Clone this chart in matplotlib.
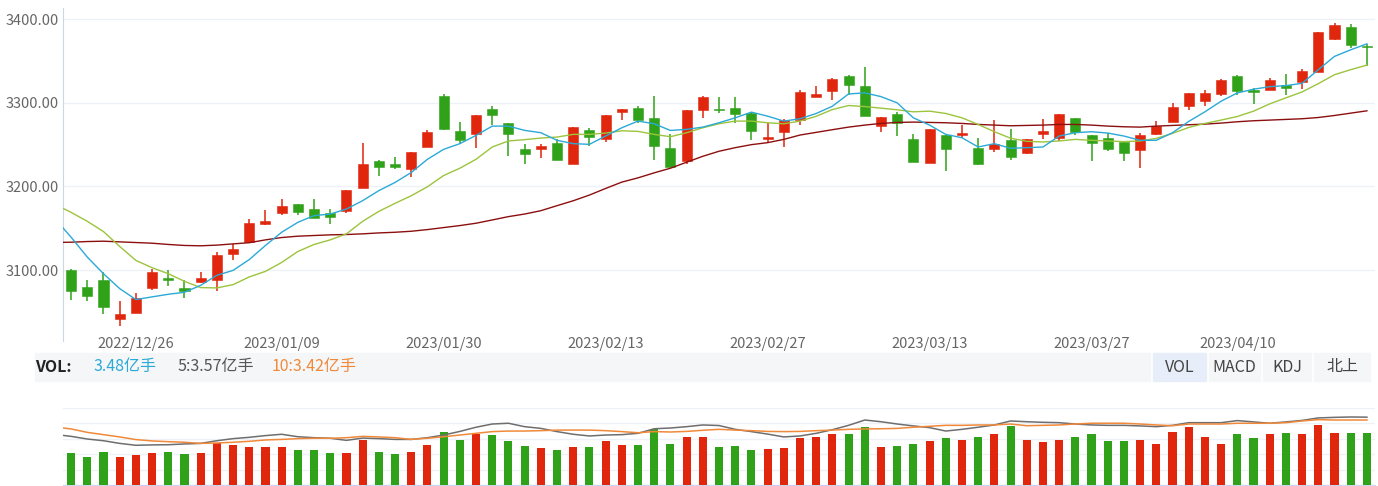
import numpy as np
import matplotlib
matplotlib.use("Agg")
import matplotlib.pyplot as plt
from matplotlib.patches import Rectangle

plt.rcParams['font.family'] = ['Noto Sans CJK SC', 'DejaVu Sans']

# trading days shown (2022/12/20 .. 2023/04/20)
dates = [
    '2022/12/20', '2022/12/21', '2022/12/22', '2022/12/23', '2022/12/26', '2022/12/27', '2022/12/28',
    '2022/12/29', '2022/12/30',
    '2023/01/03', '2023/01/04', '2023/01/05', '2023/01/06', '2023/01/09', '2023/01/10', '2023/01/11',
    '2023/01/12', '2023/01/13', '2023/01/16', '2023/01/17', '2023/01/18', '2023/01/19', '2023/01/20',
    '2023/01/30', '2023/01/31',
    '2023/02/01', '2023/02/02', '2023/02/03', '2023/02/06', '2023/02/07', '2023/02/08', '2023/02/09',
    '2023/02/10', '2023/02/13', '2023/02/14', '2023/02/15', '2023/02/16', '2023/02/17', '2023/02/20',
    '2023/02/21', '2023/02/22', '2023/02/23', '2023/02/24', '2023/02/27', '2023/02/28',
    '2023/03/01', '2023/03/02', '2023/03/03', '2023/03/06', '2023/03/07', '2023/03/08', '2023/03/09',
    '2023/03/10', '2023/03/13', '2023/03/14', '2023/03/15', '2023/03/16', '2023/03/17', '2023/03/20',
    '2023/03/21', '2023/03/22', '2023/03/23', '2023/03/24', '2023/03/27', '2023/03/28', '2023/03/29',
    '2023/03/30', '2023/03/31',
    '2023/04/03', '2023/04/04', '2023/04/06', '2023/04/07', '2023/04/10', '2023/04/11', '2023/04/12',
    '2023/04/13', '2023/04/14', '2023/04/17', '2023/04/18', '2023/04/19', '2023/04/20',
]
tick_dates = ['2022/12/26', '2023/01/09', '2023/01/30', '2023/02/13', '2023/02/27',
              '2023/03/13', '2023/03/27', '2023/04/10']

opens = [
    3100.4, 3079.8, 3088.0, 3040.9, 3048.8, 3079.0, 3090.9, 3078.6, 3085.3, 3088.0,
    3118.7, 3133.0, 3155.6, 3168.7, 3179.4, 3172.6, 3168.7, 3170.2, 3198.0, 3230.6,
    3227.4, 3221.0, 3247.6, 3308.7, 3265.9, 3262.3, 3292.1, 3275.4, 3245.2, 3245.2,
    3252.0, 3227.4, 3267.1, 3256.7, 3288.9, 3294.4, 3282.1, 3245.6, 3230.6, 3290.9,
    3292.5, 3293.3, 3288.1, 3256.7, 3265.1, 3279.0, 3307.5, 3314.3, 3331.7, 3320.6,
    3271.8, 3286.1, 3256.3, 3227.8, 3261.5, 3261.1, 3245.6, 3244.8, 3255.2, 3240.5,
    3262.3, 3258.3, 3282.1, 3261.5, 3257.5, 3253.2, 3243.3, 3262.3, 3277.4, 3296.0,
    3302.0, 3311.1, 3331.7, 3315.9, 3315.5, 3321.0, 3325.0, 3336.5, 3377.0, 3390.5,
    3367.1,
]
closes = [
    3075.0, 3069.0, 3056.0, 3048.0, 3067.0, 3097.2, 3087.7, 3075.0, 3090.5, 3118.3,
    3124.6, 3156.3, 3158.7, 3176.6, 3169.4, 3162.7, 3163.9, 3196.0, 3227.4, 3223.8,
    3223.8, 3241.3, 3265.1, 3268.3, 3255.2, 3285.3, 3285.7, 3262.3, 3238.9, 3248.0,
    3232.1, 3271.4, 3259.5, 3285.3, 3292.9, 3279.8, 3248.4, 3223.8, 3290.9, 3307.1,
    3290.9, 3286.9, 3266.3, 3259.1, 3279.0, 3312.7, 3310.7, 3329.0, 3321.0, 3284.1,
    3283.3, 3276.2, 3229.4, 3268.7, 3244.8, 3263.5, 3226.6, 3250.4, 3234.9, 3256.3,
    3265.9, 3286.9, 3265.1, 3251.6, 3244.4, 3240.5, 3261.5, 3272.2, 3295.6, 3312.3,
    3312.3, 3327.4, 3313.9, 3313.1, 3327.4, 3317.5, 3338.5, 3384.9, 3393.3, 3369.0,
    3366.7,
]
highs = [
    3100.8, 3088.5, 3097.6, 3063.0, 3072.6, 3100.8, 3100.4, 3088.0, 3098.0, 3121.4,
    3130.6, 3161.1, 3171.8, 3185.3, 3179.4, 3185.3, 3172.6, 3196.0, 3252.4, 3232.1,
    3235.7, 3241.3, 3267.5, 3311.1, 3277.4, 3285.3, 3296.0, 3275.4, 3251.2, 3251.2,
    3256.3, 3271.4, 3270.2, 3285.3, 3292.9, 3296.0, 3308.7, 3263.1, 3290.9, 3308.7,
    3307.1, 3307.1, 3289.3, 3276.2, 3281.0, 3315.1, 3320.6, 3330.2, 3333.7, 3342.9,
    3283.3, 3289.3, 3263.1, 3268.7, 3261.5, 3273.0, 3257.5, 3279.8, 3268.7, 3256.3,
    3280.2, 3286.9, 3282.1, 3261.5, 3264.3, 3254.4, 3264.3, 3278.2, 3300.0, 3312.3,
    3315.1, 3329.0, 3333.3, 3317.9, 3329.8, 3334.1, 3340.5, 3384.9, 3396.0, 3394.4,
    3370.6,
]
lows = [
    3064.0, 3062.7, 3047.0, 3033.3, 3048.8, 3075.8, 3081.3, 3066.7, 3085.0, 3074.6,
    3111.5, 3133.0, 3153.6, 3166.3, 3166.3, 3162.7, 3155.2, 3168.3, 3198.0, 3212.3,
    3220.6, 3211.1, 3247.6, 3267.0, 3252.4, 3245.6, 3273.0, 3236.1, 3226.6, 3234.5,
    3232.1, 3226.6, 3248.4, 3253.6, 3279.8, 3276.2, 3231.7, 3223.8, 3227.4, 3282.1,
    3287.7, 3276.2, 3255.2, 3253.2, 3247.2, 3273.4, 3307.5, 3303.2, 3309.1, 3284.1,
    3265.1, 3260.7, 3229.4, 3227.8, 3218.7, 3258.3, 3225.4, 3241.3, 3231.7, 3238.5,
    3256.3, 3254.4, 3261.5, 3230.6, 3242.5, 3230.6, 3222.6, 3261.1, 3277.4, 3290.9,
    3296.0, 3308.7, 3309.9, 3299.2, 3315.5, 3309.9, 3317.1, 3336.5, 3375.4, 3365.1,
    3344.4,
]

# moving averages, first value belongs to 2022/12/19 (clipped at the left edge)
ma5 = [
    3161.5,
    3139.3, 3115.5, 3095.6, 3077.8, 3064.7, 3067.9, 3071.0, 3073.4, 3081.7, 3093.7,
    3099.6, 3112.5, 3129.4, 3145.2, 3157.1, 3165.1, 3167.0, 3173.0, 3183.0, 3195.0,
    3204.8, 3216.7, 3232.5, 3244.4, 3251.2, 3261.1, 3272.2, 3272.2, 3267.1, 3264.3,
    3255.2, 3251.2, 3250.4, 3260.3, 3270.2, 3278.2, 3275.0, 3267.0, 3268.3, 3271.0,
    3276.2, 3282.1, 3288.9, 3284.1, 3278.2, 3281.0, 3287.3, 3296.0, 3310.7, 3311.9,
    3307.5, 3300.0, 3282.1, 3273.4, 3262.3, 3258.3, 3247.2, 3251.2, 3245.6, 3246.4,
    3247.2, 3260.3, 3264.3, 3265.5, 3263.9, 3260.3, 3255.2, 3255.2, 3264.3, 3277.8,
    3289.3, 3302.0, 3311.9, 3316.3, 3319.4, 3320.6, 3323.4, 3339.7, 3355.6, 3363.5,
    3370.6,
]
ma10 = [
    3178.6,
    3169.0, 3158.3, 3146.0, 3128.2, 3111.5, 3102.8, 3095.6, 3086.5, 3079.0, 3078.6,
    3082.5, 3091.8, 3098.4, 3109.1, 3122.2, 3130.6, 3136.1, 3143.3, 3158.3, 3170.2,
    3179.8, 3188.9, 3199.6, 3213.1, 3221.8, 3232.5, 3247.2, 3254.4, 3256.0, 3257.9,
    3259.1, 3262.3, 3262.3, 3263.9, 3266.6, 3265.9, 3262.3, 3259.5, 3264.3, 3270.2,
    3275.0, 3278.2, 3278.2, 3276.2, 3275.0, 3278.2, 3283.9, 3292.0, 3296.8, 3295.6,
    3293.7, 3291.7, 3289.3, 3290.1, 3287.3, 3282.1, 3274.2, 3265.5, 3257.7, 3254.0,
    3253.2, 3254.4, 3256.3, 3255.2, 3254.4, 3253.6, 3254.4, 3257.5, 3263.5, 3270.6,
    3275.4, 3279.4, 3283.7, 3290.1, 3298.8, 3306.0, 3313.1, 3323.0, 3333.7, 3339.7,
    3345.2,
]
ma_long = [
    3133.0,
    3133.3, 3134.1, 3134.5, 3133.7, 3132.9, 3132.1, 3130.6, 3129.4, 3129.0, 3129.8,
    3131.3, 3132.7, 3136.1, 3138.9, 3140.5, 3141.3, 3142.1, 3142.5, 3143.3, 3144.4,
    3145.2, 3146.4, 3148.4, 3150.8, 3153.2, 3156.0, 3159.9, 3163.9, 3167.0, 3171.0,
    3177.0, 3182.9, 3189.7, 3197.6, 3205.2, 3210.3, 3216.3, 3221.8, 3229.0, 3236.1,
    3242.1, 3246.4, 3250.0, 3252.4, 3256.3, 3261.5, 3264.7, 3267.9, 3271.0, 3273.4,
    3275.4, 3276.6, 3277.0, 3276.6, 3276.2, 3275.4, 3274.2, 3273.4, 3272.6, 3273.0,
    3273.4, 3274.2, 3274.2, 3273.4, 3272.2, 3271.4, 3271.0, 3272.2, 3273.0, 3273.8,
    3274.6, 3275.8, 3277.4, 3278.6, 3279.4, 3280.2, 3281.0, 3282.5, 3284.9, 3287.7,
    3290.5,
]

# volume in 亿手
volumes = [
    2.17, 1.86, 2.24, 1.86, 2.02, 2.17, 2.24, 2.09, 2.17, 2.81,
    2.71, 2.56, 2.56, 2.56, 2.34, 2.34, 2.17, 2.17, 3.03, 2.24,
    2.09, 2.24, 2.71, 3.57, 3.03, 3.41, 3.34, 2.94, 2.62, 2.47,
    2.34, 2.56, 2.56, 2.94, 2.71, 2.71, 3.79, 2.78, 3.25, 3.25,
    2.56, 2.62, 2.34, 2.40, 2.47, 3.16, 3.25, 3.41, 3.41, 3.88,
    2.56, 2.62, 2.78, 2.94, 3.16, 3.03, 3.25, 3.41, 3.95, 3.03,
    2.87, 3.03, 3.25, 3.41, 2.94, 2.94, 3.03, 2.78, 3.57, 3.88,
    3.25, 2.78, 3.41, 3.16, 3.41, 3.48, 3.41, 4.04, 3.48, 3.48,
    3.48,
]
vol_ma5 = [
    2.66,
    2.56, 2.42, 2.33, 2.19, 2.09, 2.11, 2.12, 2.16, 2.19, 2.33,
    2.44, 2.51, 2.60, 2.67, 2.54, 2.49, 2.46, 2.35, 2.47, 2.44,
    2.40, 2.40, 2.49, 2.63, 2.82, 3.04, 3.21, 3.25, 3.07, 2.98,
    2.81, 2.67, 2.58, 2.63, 2.65, 2.72, 2.96, 3.00, 3.07, 3.16,
    3.13, 2.93, 2.81, 2.68, 2.53, 2.58, 2.72, 2.91, 3.14, 3.42,
    3.33, 3.21, 3.11, 3.02, 2.84, 2.93, 3.04, 3.16, 3.37, 3.33,
    3.30, 3.28, 3.21, 3.16, 3.14, 3.14, 3.11, 3.07, 3.14, 3.28,
    3.28, 3.28, 3.39, 3.32, 3.25, 3.32, 3.40, 3.53, 3.56, 3.58,
    3.57,
]
vol_ma10 = [
    3.05,
    2.95, 2.77, 2.65, 2.53, 2.39, 2.32, 2.28, 2.25, 2.19, 2.21,
    2.25, 2.30, 2.37, 2.40, 2.44, 2.46, 2.46, 2.49, 2.56, 2.53,
    2.49, 2.40, 2.46, 2.54, 2.63, 2.72, 2.81, 2.84, 2.84, 2.86,
    2.89, 2.89, 2.89, 2.86, 2.81, 2.75, 2.81, 2.79, 2.82, 2.88,
    2.93, 2.89, 2.86, 2.82, 2.81, 2.82, 2.86, 2.89, 2.93, 2.95,
    2.96, 2.98, 3.04, 3.09, 3.14, 3.14, 3.16, 3.16, 3.21, 3.12,
    3.14, 3.16, 3.21, 3.25, 3.25, 3.25, 3.21, 3.16, 3.12, 3.21,
    3.21, 3.21, 3.25, 3.25, 3.25, 3.28, 3.37, 3.44, 3.42, 3.42,
    3.42,
]

RED = '#e0260c'
GREEN = '#30a219'
GRID = '#eef1f6'
AXIS = '#ccd6eb'

W, H = 1378, 486
fig = plt.figure(figsize=(W / 100, H / 100), dpi=100)


def frac_box(x0, y0, x1, y1):
    # pixel box (top-left origin) -> figure fraction rect
    return [x0 / W, 1 - y1 / H, (x1 - x0) / W, (y1 - y0) / H]


o = np.array(opens)
c = np.array(closes)
x = np.arange(len(dates))
x_ma = np.arange(-1, len(dates))
up = c >= o
colors = np.where(up, RED, GREEN)

# ---- price panel
ax = fig.add_axes(frac_box(63, 8, 1375, 341))
ax.vlines(x, lows, highs, colors=colors, linewidth=1.1, zorder=2)
body_low = np.minimum(o, c)
body_h = np.maximum(np.abs(c - o), 0.9)
ax.bar(x, body_h, bottom=body_low, width=0.62, color=colors, edgecolor=colors,
       linewidth=0.4, zorder=3)
ax.plot(x_ma, ma_long, color='#8c0f0f', linewidth=1.0, zorder=4)
ax.plot(x_ma, ma10, color='#9cc43c', linewidth=1.0, zorder=4)
ax.plot(x_ma, ma5, color='#2ba9d7', linewidth=1.0, zorder=4)

ax.set_xlim(-0.5, len(dates) - 0.5)
ax.set_ylim(3015.1, 3413.5)
ax.set_yticks([3100, 3200, 3300, 3400])
ax.set_yticklabels([f'{v:.2f}' for v in [3100, 3200, 3300, 3400]])
ax.set_xticks([dates.index(d) for d in tick_dates])
ax.set_xticklabels(tick_dates)
ax.tick_params(axis='both', length=0, colors='#666666', labelsize=10.5)
ax.tick_params(axis='y', pad=3)
ax.tick_params(axis='x', pad=-3)
ax.grid(axis='y', color=GRID, linewidth=1)
ax.set_axisbelow(True)
for side in ['top', 'right', 'bottom']:
    ax.spines[side].set_visible(False)
ax.spines['left'].set_color(AXIS)

# ---- toolbar row
fig.patches.append(Rectangle((35 / W, 1 - 381 / H), (1150 - 35) / W, 28 / H,
                             transform=fig.transFigure, color='#f5f6f7', zorder=0))
ty = 1 - 367 / H
fs = 11.5
fig.text(35 / W, ty, 'VOL:', fontsize=fs, fontweight='bold', color='#222222', va='center')
fig.text(93 / W, ty, '3.48亿手', fontsize=fs, color='#2ba9d7', va='center')
fig.text(177 / W, ty, '5:3.57亿手', fontsize=fs, color='#555555', va='center')
fig.text(272 / W, ty, '10:3.42亿手', fontsize=fs, color='#f0893a', va='center')

buttons = [('VOL', 1153, 1206, '#e7eef9'), ('MACD', 1209, 1260, '#f5f6f7'),
           ('KDJ', 1263, 1311, '#f5f6f7'), ('北上', 1314, 1370, '#f5f6f7')]
for label, bx0, bx1, bg in buttons:
    fig.patches.append(Rectangle((bx0 / W, 1 - 381 / H), (bx1 - bx0) / W, 28 / H,
                                 transform=fig.transFigure, color=bg, zorder=0))
    fig.text((bx0 + bx1) / 2 / W, ty, label, fontsize=fs, color='#444444',
             ha='center', va='center')

# ---- volume panel
vol_px_top = 408
axv = fig.add_axes(frac_box(63, vol_px_top, 1375, 485))
axv.bar(x, volumes, width=0.5, color=colors, linewidth=0, zorder=3)
vmax = (485 - vol_px_top) / 14.86
axv.set_ylim(0, vmax)
axv.set_xlim(-0.5, len(dates) - 0.5)
axv.set_yticks(np.linspace(0, vmax, 6))
axv.grid(axis='y', color=GRID, linewidth=1)
axv.set_axisbelow(True)
axv.set_xticks([])
axv.tick_params(axis='y', length=0, labelleft=False)
for side in ['top', 'right', 'left']:
    axv.spines[side].set_visible(False)
axv.spines['bottom'].set_color(AXIS)

# volume averages sit on their own scale
axl = axv.twinx()
axl.plot(x_ma, vol_ma5, color='#6e6e6e', linewidth=1.1, zorder=4)
axl.plot(x_ma, vol_ma10, color='#f0893a', linewidth=1.1, zorder=4)
axl.set_ylim(0, (485 - vol_px_top) / 19.0)
axl.set_xlim(-0.5, len(dates) - 0.5)
axl.axis('off')

fig.savefig('out.png', dpi=100)
